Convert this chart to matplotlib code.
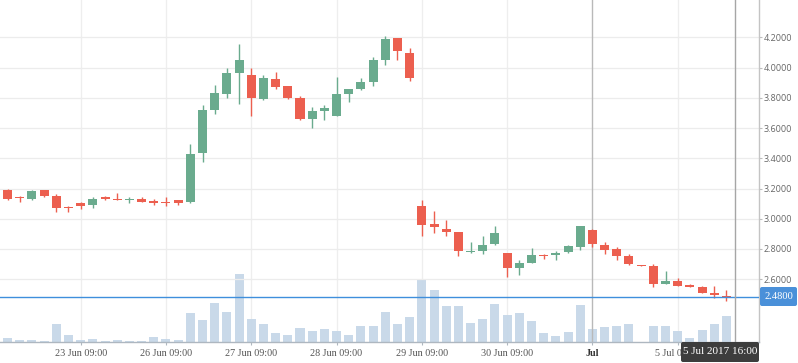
import matplotlib
matplotlib.use("Agg")
import matplotlib.pyplot as plt
from matplotlib.patches import FancyBboxPatch
from matplotlib.transforms import IdentityTransform
import numpy as np

# ---------------- data ----------------
candle_idx = list(range(-1, 60))
opens = [3.230, 3.190, 3.136, 3.130, 3.190, 3.150, 3.070, 3.104, 3.093, 3.144,
         3.130, 3.124, 3.130, 3.117, 3.111, 3.124, 3.111, 3.435, 3.720, 3.826,
         3.965, 3.952, 3.793, 3.925, 3.879, 3.799, 3.660, 3.713, 3.680, 3.826,
         3.859, 3.905, 4.051, 4.197, 4.097, 3.084, 2.965, 2.932, 2.912, 2.779,
         2.786, 2.832, 2.773, 2.674, 2.707, 2.760, 2.760, 2.779, 2.813, 2.925,
         2.826, 2.800, 2.753, 2.693, 2.687, 2.568, 2.587, 2.561, 2.548, 2.508,
         2.486]
highs = [3.236, 3.195, 3.150, 3.190, 3.192, 3.164, 3.084, 3.111, 3.144, 3.150,
         3.170, 3.144, 3.144, 3.130, 3.144, 3.124, 3.495, 3.753, 3.885, 3.998,
         4.157, 3.998, 3.952, 3.972, 3.881, 3.813, 3.740, 3.753, 3.938, 3.861,
         3.932, 4.071, 4.210, 4.199, 4.130, 3.124, 3.051, 2.991, 2.914, 2.846,
         2.885, 2.952, 2.775, 2.726, 2.806, 2.766, 2.786, 2.826, 2.954, 2.932,
         2.846, 2.813, 2.766, 2.694, 2.700, 2.654, 2.607, 2.568, 2.554, 2.554,
         2.528]
lows = [3.183, 3.126, 3.113, 3.124, 3.144, 3.044, 3.046, 3.066, 3.073, 3.124,
        3.124, 3.104, 3.111, 3.091, 3.084, 3.091, 3.104, 3.375, 3.693, 3.799,
        3.760, 3.680, 3.786, 3.859, 3.793, 3.654, 3.600, 3.654, 3.678, 3.773,
        3.852, 3.879, 4.018, 4.051, 3.912, 2.885, 2.905, 2.885, 2.753, 2.773,
        2.766, 2.826, 2.614, 2.627, 2.705, 2.733, 2.726, 2.773, 2.793, 2.813,
        2.766, 2.726, 2.693, 2.686, 2.548, 2.567, 2.553, 2.547, 2.507, 2.475,
        2.455]
closes = [3.185, 3.132, 3.134, 3.183, 3.150, 3.073, 3.068, 3.086, 3.130, 3.130,
          3.124, 3.130, 3.111, 3.104, 3.104, 3.104, 3.428, 3.720, 3.832, 3.965,
          4.051, 3.799, 3.932, 3.872, 3.799, 3.660, 3.713, 3.733, 3.826, 3.859,
          3.905, 4.051, 4.190, 4.111, 3.932, 2.958, 2.945, 2.912, 2.786, 2.786,
          2.826, 2.905, 2.674, 2.707, 2.760, 2.751, 2.773, 2.819, 2.952, 2.832,
          2.793, 2.753, 2.700, 2.687, 2.568, 2.587, 2.554, 2.548, 2.508, 2.495,
          2.480]

volume_idx = list(range(-1, 61))
volumes = [2, 4, 2, 2, 1, 18, 7, 2, 3, 1,
           2, 1, 1, 5, 3, 2, 29, 22, 39, 30,
           68, 23, 18, 9, 7, 14, 11, 13, 11, 7,
           16, 16, 30, 18, 25, 62, 52, 36, 36, 19,
           23, 38, 27, 29, 21, 9, 6, 10, 37, 13,
           15, 16, 18, 0.5, 16, 16, 11, 4, 12, 18,
           26, 0.5]

xtick_pos = [6, 13, 20, 27, 34, 41, 48, 55]
xtick_labels = ['23 Jun 09:00', '26 Jun 09:00', '27 Jun 09:00', '28 Jun 09:00',
                '29 Jun 09:00', '30 Jun 09:00', 'Jul', '5 Jul 09:00']
ytick_vals = [2.6, 2.8, 3.0, 3.2, 3.4, 3.6, 3.8, 4.0, 4.2]
last_price = 2.48
crosshair_x = 59.67
crosshair_label = '5 Jul 2017 16:00'

# ---------------- style ----------------
GREEN = '#6aab8e'
RED = '#ec5f4f'
VOL = '#c6d7e8'
BLUE = '#3f8fdc'

W, H = 798, 363
fig = plt.figure(figsize=(W / 100, H / 100), dpi=100)
fig.patch.set_facecolor('white')
rect = [0, 20.7 / H, 759 / W, 342.3 / H]

axv = fig.add_axes(rect)
ax = fig.add_axes(rect, sharex=axv)
ax.patch.set_alpha(0)

xmin, xmax = -0.62, 61.67
axv.set_xlim(xmin, xmax)

# volume axes (behind)
axv.set_ylim(0, 342.3)
for p, lab in zip(xtick_pos, xtick_labels):
    if lab != 'Jul':
        axv.axvline(p, color='#eeeeee', lw=0.9, zorder=0)
axv.bar(volume_idx, volumes, width=0.74, color=VOL, alpha=0.95, zorder=2)
for s in axv.spines.values():
    s.set_visible(False)
axv.set_yticks([])
axv.tick_params(axis='x', which='both', bottom=False, labelbottom=False)

# price axes
ax.set_ylim(2.1815, 4.4483)
ax.set_xlim(xmin, xmax)
for v in ytick_vals:
    ax.axhline(v, color='#ececec', lw=0.9, zorder=0)

cols = [GREEN if c >= o else RED for o, c in zip(opens, closes)]
o = np.array(opens); c = np.array(closes)
body_h = np.maximum(np.abs(c - o), 0.009)
body_b = np.minimum(o, c)
ax.vlines(candle_idx, lows, highs, colors=cols, lw=1.0, zorder=3)
ax.bar(candle_idx, body_h, bottom=body_b, width=0.74, color=cols, zorder=4)

ax.axhline(last_price, color=BLUE, lw=1.0, zorder=5)
ax.axvline(48, color='#b9b9b9', lw=1.0, zorder=2)
ax.axvline(crosshair_x, color='#a6a6a6', lw=1.0, zorder=6)

# axes decoration
ax.spines['top'].set_visible(False)
ax.spines['left'].set_visible(False)
ax.spines['right'].set_color('#c4c4c4')
ax.spines['right'].set_linewidth(1.0)
ax.spines['bottom'].set_color('#aeb7c0')
ax.spines['bottom'].set_linewidth(1.0)
ax.yaxis.tick_right()
ax.set_yticks(ytick_vals)
ax.set_yticklabels(['%.4f' % v for v in ytick_vals],
                   fontfamily='Open Sans', fontsize=6.5, color='#666666')
ax.tick_params(axis='y', length=2.3, width=0.8, color='#bdbdbd', pad=0.8)
ax.set_xticks(xtick_pos)
ax.set_xticklabels(xtick_labels, fontfamily='Liberation Serif', fontsize=7.3,
                   color='#555555')
ax.tick_params(axis='x', length=2.5, width=0.8, color='#aeb7c0', pad=2)
for t in ax.get_xticklabels():
    if t.get_text() == 'Jul':
        t.set_fontweight('bold')
        t.set_color('#333333')

# last price label (right)
ident = IdentityTransform()
fig.add_artist(FancyBboxPatch((762, 59), 33, 15,
                              boxstyle='round,pad=2,rounding_size=2',
                              fc='#4a90d9', ec='none', transform=ident, zorder=5))
fig.text(778.5 / W, 66.5 / H, '%.4f' % last_price, ha='center', va='center',
         fontfamily='Liberation Serif', fontsize=7.6, color='white', zorder=6)

# crosshair tooltip (bottom)
fig.add_artist(FancyBboxPatch((683, 3), 74, 16,
                              boxstyle='round,pad=2,rounding_size=2',
                              fc='#3d3d3d', ec='none', transform=ident, zorder=5))
fig.text(720 / W, 11 / H, crosshair_label, ha='center', va='center',
         fontfamily='Liberation Serif', fontsize=8, color='white', zorder=6)

fig.savefig('out.png', dpi=100)
